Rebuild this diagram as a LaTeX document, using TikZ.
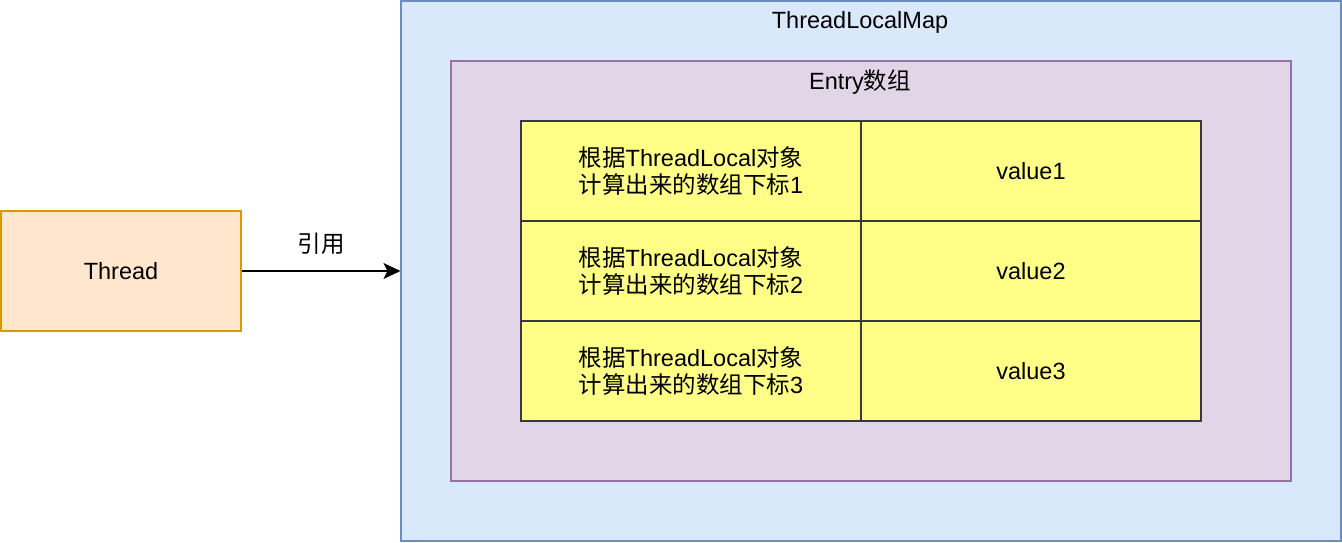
\documentclass[tikz,border=0pt]{standalone}
\usepackage{fontspec}
\setmainfont{Liberation Sans}
\newfontfamily\cjk{Noto Sans CJK SC}
\usetikzlibrary{arrows.meta,positioning}

\definecolor{threadfill}{HTML}{FFE6CC}
\definecolor{threaddraw}{HTML}{D79B00}
\definecolor{mapfill}{HTML}{DAE8FC}
\definecolor{mapdraw}{HTML}{6C8EBF}
\definecolor{entryfill}{HTML}{E1D5E7}
\definecolor{entrydraw}{HTML}{9673A6}
\definecolor{cellfill}{HTML}{FFFF88}
\definecolor{celldraw}{HTML}{36393D}

\tikzset{
  box/.style={draw, line width=1.1pt, inner sep=0pt, align=center,
    font=\fontsize{23.5}{27.5}\selectfont},
  cell/.style={box, fill=cellfill, draw=celldraw, minimum width=340, minimum height=100},
  label/.style={inner sep=0pt, font=\fontsize{23.5}{27.5}\selectfont}
}

\newcommand{\idx}[1]{{\cjk 根据}ThreadLocal{\cjk 对象}\\{\cjk 计算出来的数组下标}#1}

\begin{document}
\begin{tikzpicture}[x=1pt,y=-1pt]
		\useasboundingbox (0,0) rectangle (1342,542);
		\node[box, fill=mapfill, draw=mapdraw, minimum width=940, minimum height=540] (map) at (871,271) {};
		\node[label] (maplabel) at (860,22) {ThreadLocalMap};
		
		\node[box, fill=entryfill, draw=entrydraw, minimum width=840, minimum height=420] (entry) at (871,271) {};
		\node[label] (entrylabel) at (860,82) {Entry{\cjk 数组}};
		
		\node[cell] (k1) at (691,171) {\idx{1}};
		\node[cell] (v1) at (1031,171) {value1};
		\node[cell] (k2) at (691,271) {\idx{2}};
		\node[cell] (v2) at (1031,271) {value2};
		\node[cell] (k3) at (691,371) {\idx{3}};
		\node[cell] (v3) at (1031,371) {value3};
		
		\node[box, fill=threadfill, draw=threaddraw, minimum width=240, minimum height=120] (thread) at (121,271) {Thread};
		\draw[-{Stealth[length=17pt,width=16pt,inset=4pt]}, line width=1.5pt] (thread) -- node[label, above=16pt] (ref) {\cjk 引用} (map);
	\end{tikzpicture}
\end{document}
